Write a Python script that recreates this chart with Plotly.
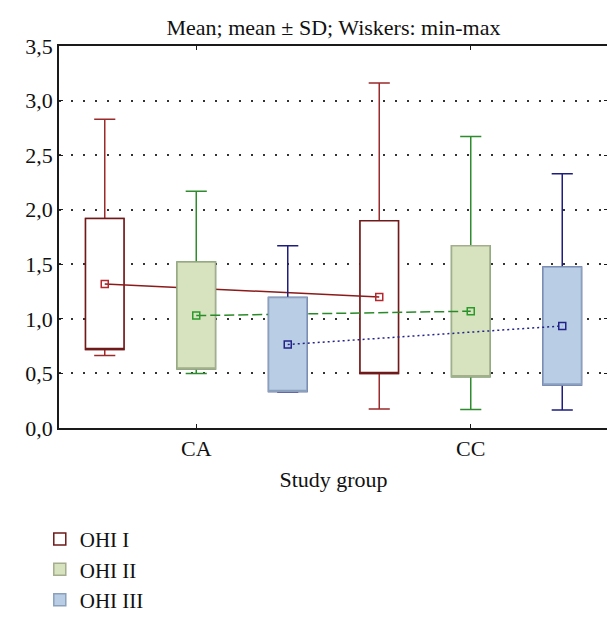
import plotly.graph_objects as go

# ---------------- data ----------------
categories = ["CA", "CC"]
series_names = ["OHI I", "OHI II", "OHI III"]

mean_ohi1 = [1.32, 1.20]
sd_ohi1 = [0.60, 0.70]
min_ohi1 = [0.665, 0.175]
max_ohi1 = [2.83, 3.16]

mean_ohi2 = [1.03, 1.07]
sd_ohi2 = [0.49, 0.60]
min_ohi2 = [0.50, 0.17]
max_ohi2 = [2.17, 2.67]

mean_ohi3 = [0.765, 0.935]
sd_ohi3 = [0.43, 0.54]
min_ohi3 = [0.33, 0.165]
max_ohi3 = [1.67, 2.33]

y_ticks = [0, 0.5, 1.0, 1.5, 2.0, 2.5, 3.0, 3.5]

# ---------------- style ----------------
FONT = "Liberation Serif, Times New Roman, serif"
FS = 22
styles = [
    dict(offset=-1/3, whisk="#9b2a2a", border="#6e1a1a", fill="#ffffff",
         mcol="#b8262b", lcol="#8b1a1a", dash="solid"),
    dict(offset=0.0, whisk="#2e8b2e", border="#a4ad8d", fill="#d7e3bf",
         mcol="#2a9a2a", lcol="#2a8a2a", dash="10px,4px"),
    dict(offset=1/3, whisk="#1d1d80", border="#8aa0bd", fill="#b9cde5",
         mcol="#22228a", lcol="#22228a", dash="2px,3px"),
]
data = [
    (mean_ohi1, sd_ohi1, min_ohi1, max_ohi1),
    (mean_ohi2, sd_ohi2, min_ohi2, max_ohi2),
    (mean_ohi3, sd_ohi3, min_ohi3, max_ohi3),
]

BOX_W = 0.14
fig = go.Figure()

for k, (name, st, (means, sds, mins, maxs)) in enumerate(zip(series_names, styles, data)):
    xa = "x" if k == 0 else f"x{k+1}"
    ya = "y" if k == 0 else f"y{k+1}"
    xs = [i + st["offset"] for i in range(len(categories))]
    lo = [m - s for m, s in zip(means, sds)]
    hi = [m + s for m, s in zip(means, sds)]
    # whiskers (min-max)
    fig.add_trace(go.Box(
        x=xs, q1=lo, median=lo, q3=hi, lowerfence=mins, upperfence=maxs,
        orientation="v", width=BOX_W, whiskerwidth=0.55,
        line=dict(color=st["whisk"], width=1.5), fillcolor="rgba(0,0,0,0)",
        boxpoints=False, showlegend=False, hoverinfo="skip",
        xaxis=xa, yaxis=ya, name=name,
    ))
    # box (mean ± SD)
    fig.add_trace(go.Box(
        x=xs, q1=lo, median=lo, q3=hi, lowerfence=lo, upperfence=hi,
        orientation="v", width=BOX_W, whiskerwidth=0,
        line=dict(color=st["border"], width=1.5), fillcolor=st["fill"],
        boxpoints=False, showlegend=True, name=name,
        xaxis=xa, yaxis=ya,
    ))
    # mean line
    fig.add_trace(go.Scatter(
        x=xs, y=means, mode="lines+markers",
        line=dict(color=st["lcol"], width=1.5, dash=st["dash"]),
        marker=dict(symbol="square-open", size=7, color=st["mcol"],
                    line=dict(width=1.5, color=st["mcol"])),
        showlegend=False, xaxis=xa, yaxis=ya, name=name,
    ))

axis_common = dict(
    showline=True, linecolor="#1a1a1a", linewidth=1.5, mirror="ticks",
    ticks="inside", ticklen=4, tickwidth=1.2, tickcolor="#1a1a1a",
    zeroline=False, tickfont=dict(family=FONT, size=FS, color="#111"),
)

layout = dict(
    width=615, height=624,
    margin=dict(l=51, r=15, t=38, b=191, pad=0),
    paper_bgcolor="white", plot_bgcolor="white",
    separators=", ",
    font=dict(family=FONT, size=FS, color="#111"),
    title=dict(text="Mean; mean ± SD; Wiskers: min-max", x=0.5, xref="paper",
               xanchor="center", y=1 - 19 / 624, yref="container", yanchor="middle",
               font=dict(family=FONT, size=FS, color="#111")),
    xaxis=dict(range=[-0.5, 1.5], tickvals=list(range(len(categories))),
               ticktext=categories, showgrid=False,
               title=dict(text="Study group", standoff=11,
                          font=dict(family=FONT, size=FS, color="#111")),
               **axis_common),
    yaxis=dict(range=[0, 3.5], tickvals=y_ticks, tickformat=".1f",
               showgrid=True, gridcolor="#333", gridwidth=1.5, griddash="2px,10px",
               **axis_common),
    legend=dict(x=-0.035, y=-0.238, xanchor="left", yanchor="top",
                font=dict(family=FONT, size=21, color="#111"),
                bgcolor="rgba(0,0,0,0)", tracegroupgap=0, traceorder="normal"),
    showlegend=True,
)
for k in range(1, len(series_names)):
    layout[f"xaxis{k+1}"] = dict(overlaying="x", range=[-0.5, 1.5], visible=False)
    layout[f"yaxis{k+1}"] = dict(overlaying="y", range=[0, 3.5], visible=False)

fig.update_layout(**layout)
fig.write_html("out.html")
